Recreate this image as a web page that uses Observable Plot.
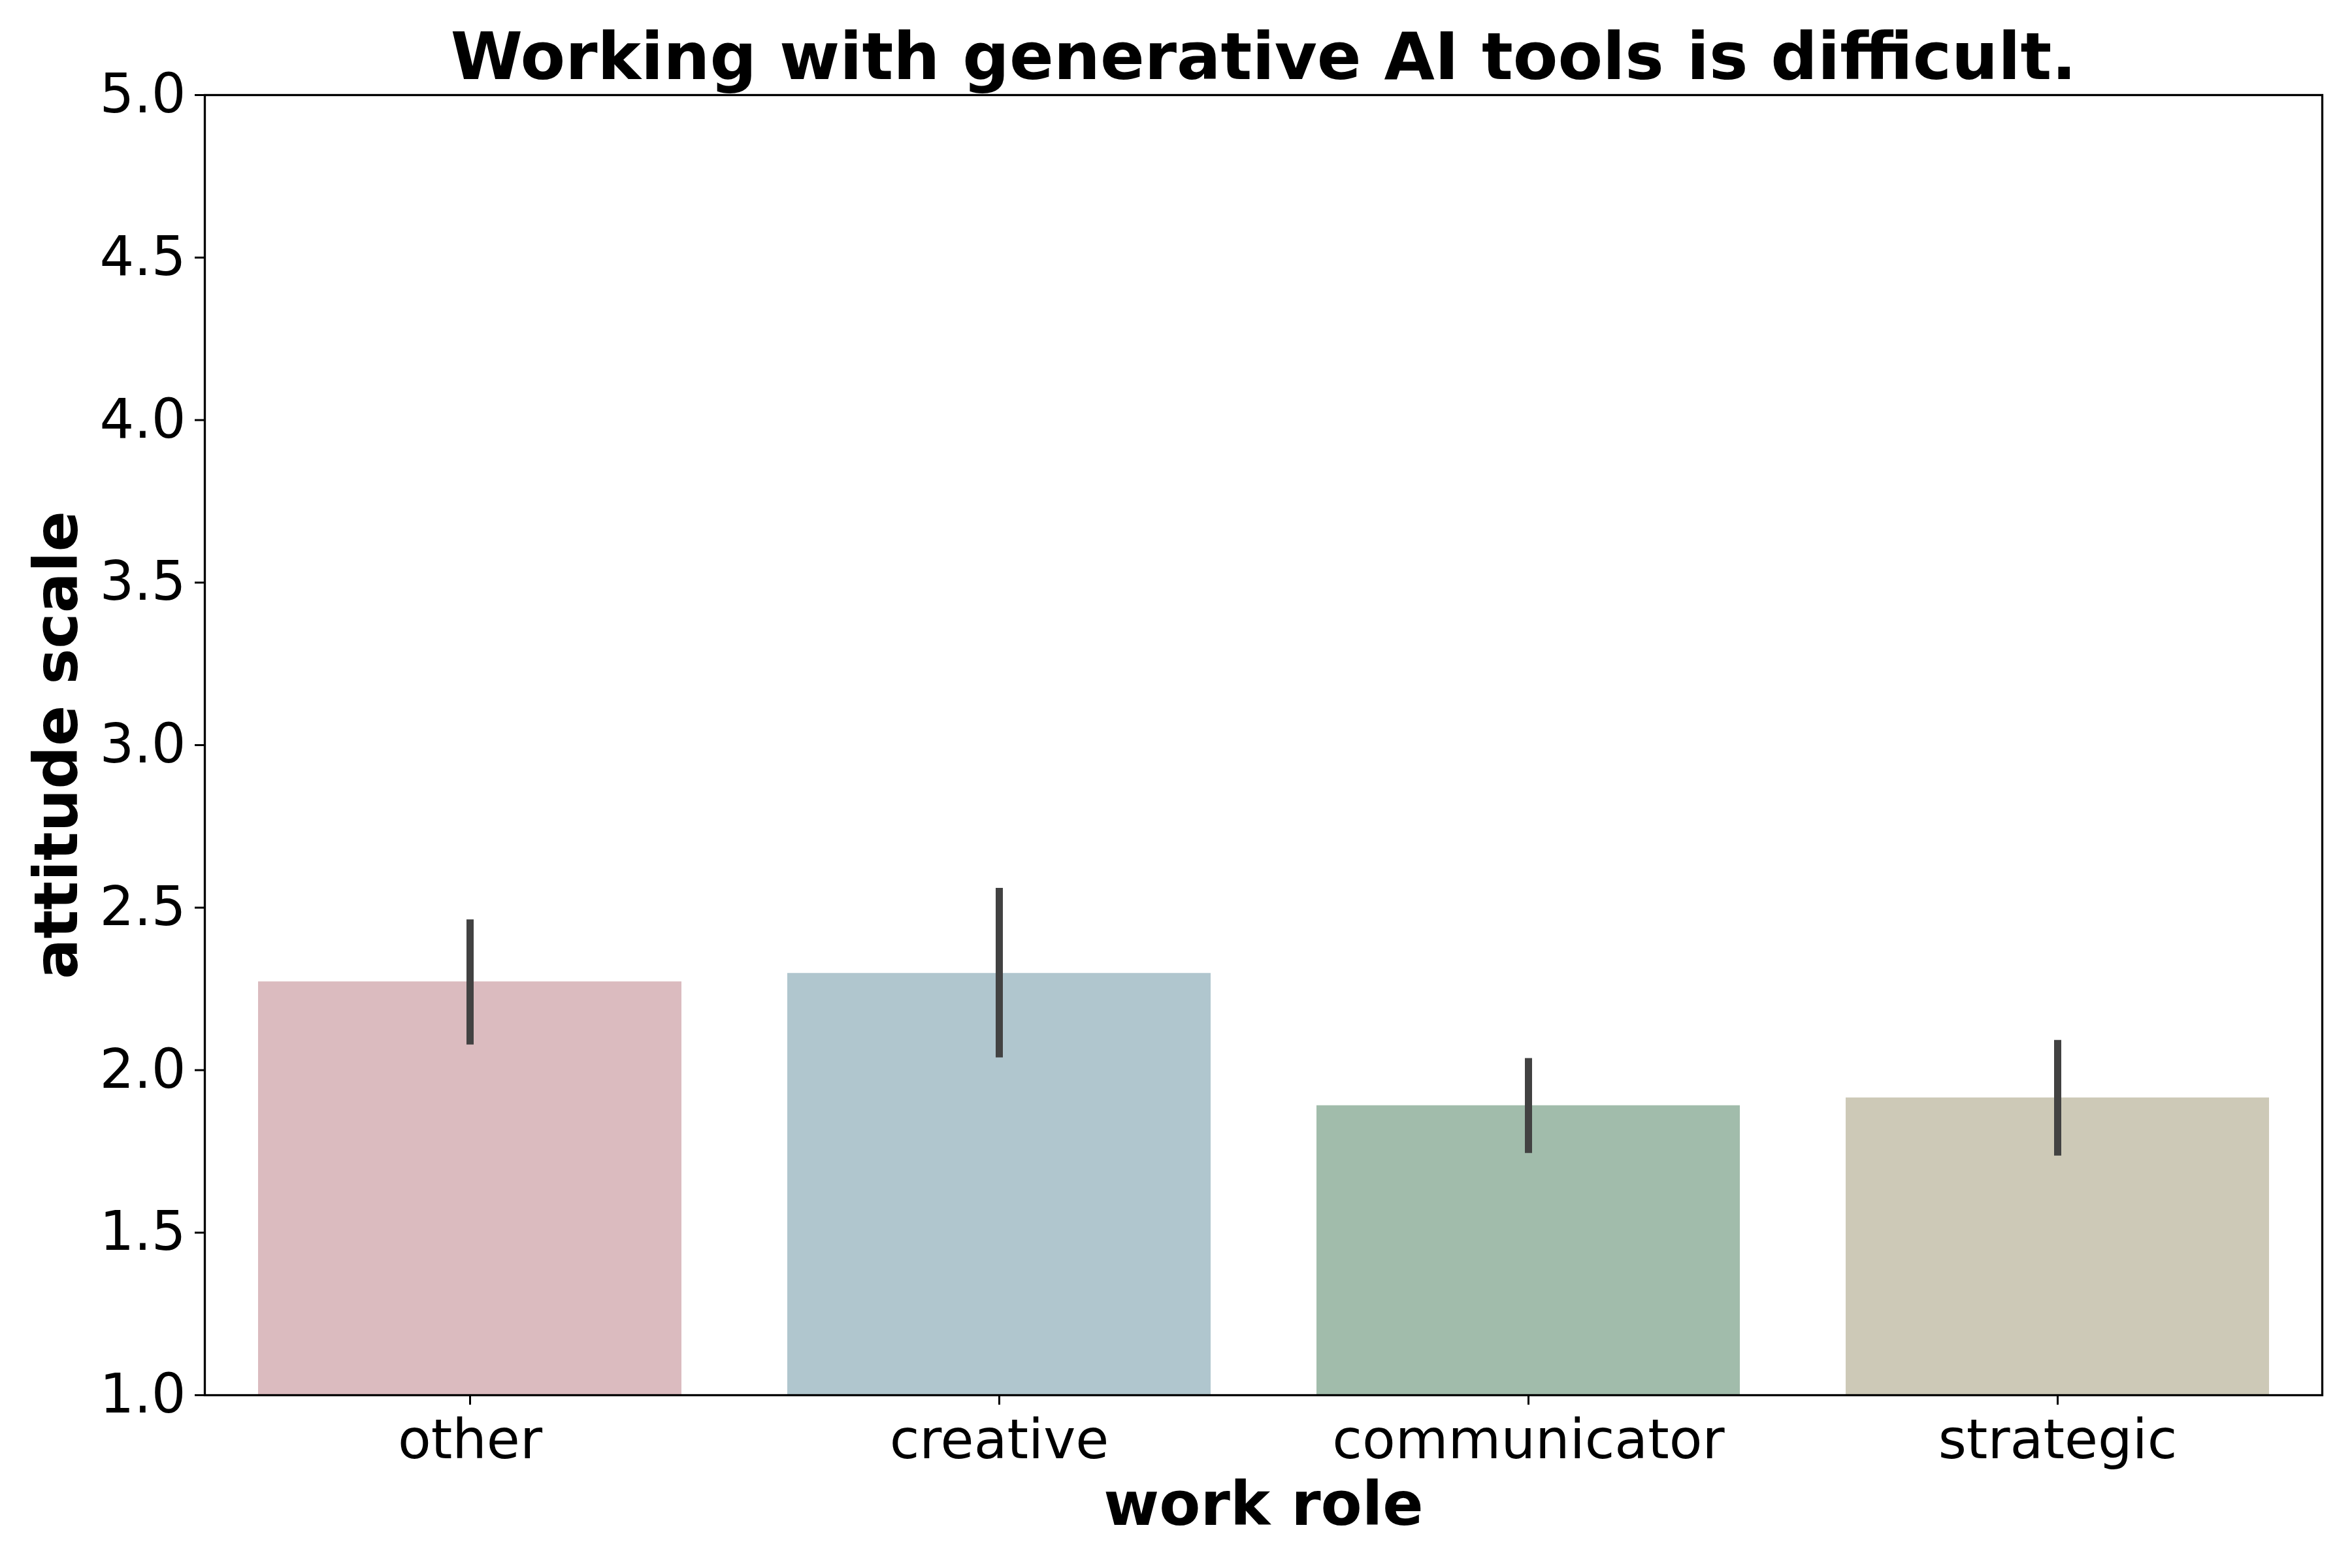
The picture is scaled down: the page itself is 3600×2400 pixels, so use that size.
<!DOCTYPE html>
<html>
<head>
<meta charset="utf-8">
<script src="https://cdn.jsdelivr.net/npm/d3@7"></script>
<script src="https://cdn.jsdelivr.net/npm/@observablehq/plot@0.6"></script>
<style>
  html, body { margin: 0; padding: 0; background: #fff; }
  svg { display: block; }
</style>
</head>
<body>
<div id="chart"></div>
<script>
const roles = ["other", "creative", "communicator", "strategic"];
const means = [2.272, 2.298, 1.891, 1.915];
const ciLow = [2.078, 2.038, 1.744, 1.736];
const ciHigh = [2.463, 2.560, 2.036, 2.092];
const barColors = ["#dbbbbf", "#b0c6ce", "#a1bcab", "#cdc9b7"];
const yTicks = [1.0, 1.5, 2.0, 2.5, 3.0, 3.5, 4.0, 4.5, 5.0];
const yDomain = [1, 5];
const titleText = "Working with generative AI tools is difficult.";
const xLabel = "work role";
const yLabel = "attitude scale";

const data = roles.map((r, i) => ({role: r, mean: means[i], lo: ciLow[i], hi: ciHigh[i], color: barColors[i]}));

const font = "DejaVu Sans";

const chart = Plot.plot({
  width: 3600,
  height: 2400,
  marginLeft: 313,
  marginRight: 46,
  marginTop: 145,
  marginBottom: 265,
  style: {fontFamily: font, background: "#fff", color: "#000"},
  x: {domain: roles, paddingInner: 0.2, paddingOuter: 0.1, label: null},
  y: {domain: yDomain, label: null},
  marks: [
    Plot.barY(data, {x: "role", y1: () => yDomain[0], y2: "mean", fill: "color"}),
    Plot.ruleX(data, {x: "role", y1: "lo", y2: "hi", stroke: "#424242", strokeWidth: 11}),
    Plot.frame({stroke: "#000", strokeWidth: 3.3}),
    Plot.axisY({
      ticks: yTicks, tickFormat: d => d.toFixed(1), tickSize: 15, tickPadding: 14,
      fontSize: 83, strokeWidth: 3, label: null
    }),
    Plot.axisX({
      tickSize: 15, tickPadding: 23, fontSize: 83, strokeWidth: 3, label: null
    }),
    Plot.text([titleText], {
      text: d => d, frameAnchor: "top", dy: -25, lineAnchor: "bottom",
      fontSize: 100, fontWeight: "bold", fill: "#000"
    }),
    Plot.text([xLabel], {
      text: d => d, frameAnchor: "bottom", dy: 198, lineAnchor: "bottom",
      fontSize: 92, fontWeight: "bold", fill: "#000"
    }),
    Plot.text([yLabel], {
      text: d => d, frameAnchor: "left", dx: -196, rotate: -90, lineAnchor: "bottom",
      textAnchor: "middle", fontSize: 92, fontWeight: "bold", fill: "#000"
    })
  ]
});
document.getElementById("chart").appendChild(chart);
</script>
</body>
</html>
